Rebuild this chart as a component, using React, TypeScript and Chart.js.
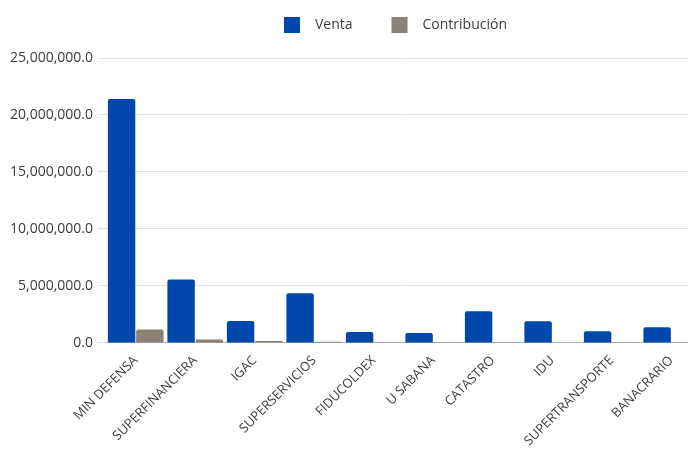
import React, { useEffect, useRef } from "react";
import { Chart, registerables } from "chart.js";

Chart.register(...registerables);

const categories = [
  "MIN DEFENSA",
  "SUPERFINANCIERA",
  "IGAC",
  "SUPERSERVICIOS",
  "FIDUCOLDEX",
  "U SABANA",
  "CATASTRO",
  "IDU",
  "SUPERTRANSPORTE",
  "BANACRARIO",
];

const venta = [21400000, 5570000, 1920000, 4360000, 960000, 870000, 2770000, 1890000, 1020000, 1370000];
const contribucion = [1180000, 300000, 160000, 110000, 20000, 60000, 50000, 40000, 20000, 20000];

const yTicks = [0, 5000000, 10000000, 15000000, 20000000, 25000000];

const FONT = "'Open Sans', sans-serif";
const TEXT = "#3c3c3c";

const customLegend = {
  id: "customLegend",
  afterDraw(chart: any) {
    const ctx = chart.ctx as CanvasRenderingContext2D;
    const items = chart.data.datasets.map((d: any) => ({ text: d.label, color: d.backgroundColor }));
    const box = 16;
    const gapText = 15;
    const gapItem = 39;
    ctx.save();
    ctx.font = `14px ${FONT}`;
    const widths = items.map((it: any) => box + gapText + ctx.measureText(it.text).width);
    const total = widths.reduce((a: number, b: number) => a + b, 0) + gapItem * (items.length - 1);
    const ca = chart.chartArea;
    let x = (ca.left + ca.right) / 2 - 8 - total / 2;
    const top = 17;
    items.forEach((it: any, i: number) => {
      ctx.fillStyle = it.color;
      ctx.fillRect(x, top, box, box);
      ctx.fillStyle = TEXT;
      ctx.textBaseline = "middle";
      ctx.textAlign = "left";
      ctx.fillText(it.text, x + box + gapText, top + box / 2);
      x += widths[i] + gapItem;
    });
    ctx.restore();
  },
};

export default function App() {
  const ref = useRef<HTMLCanvasElement | null>(null);

  useEffect(() => {
    if (!ref.current) return;
    const chart = new Chart(ref.current, {
      type: "bar",
      data: {
        labels: categories,
        datasets: [
          {
            label: "Venta",
            data: venta,
            backgroundColor: "#0047AB",
            borderRadius: 2,
            categoryPercentage: 0.95,
            barPercentage: 0.97,
          },
          {
            label: "Contribución",
            data: contribucion,
            backgroundColor: "#8C8177",
            borderRadius: 2,
            categoryPercentage: 0.95,
            barPercentage: 0.97,
          },
        ],
      },
      plugins: [customLegend],
      options: {
        animation: false,
        responsive: false,
        maintainAspectRatio: false,
        layout: { padding: { left: 5, right: 0, top: 58, bottom: 0 } },
        plugins: {
          legend: { display: false },
          tooltip: { enabled: false },
        },
        scales: {
          x: {
            grid: { display: false },
            border: { color: "#b0b0b0" },
            ticks: {
              color: TEXT,
              font: { family: FONT, size: 13 },
              maxRotation: 45,
              minRotation: 45,
              autoSkip: false,
              padding: 2,
            },
          },
          y: {
            min: 0,
            max: 25000000,
            afterBuildTicks: (axis: any) => {
              axis.ticks = yTicks.map((v) => ({ value: v }));
            },
            grid: { color: "#e2e2e2" },
            border: { display: false },
            ticks: {
              color: TEXT,
              padding: 5,
              font: { family: FONT, size: 14 },
              callback: (v: any) =>
                Number(v).toLocaleString("en-US", { minimumFractionDigits: 1, maximumFractionDigits: 1 }),
            },
          },
        },
      },
    });
    return () => chart.destroy();
  }, []);

  return (
    <div style={{ position: "absolute", left: 0, top: 0, width: 688, height: 451, overflow: "hidden", background: "#fff" }}>
      <canvas ref={ref} width={701} height={451} style={{ display: "block" }} />
    </div>
  );
}
